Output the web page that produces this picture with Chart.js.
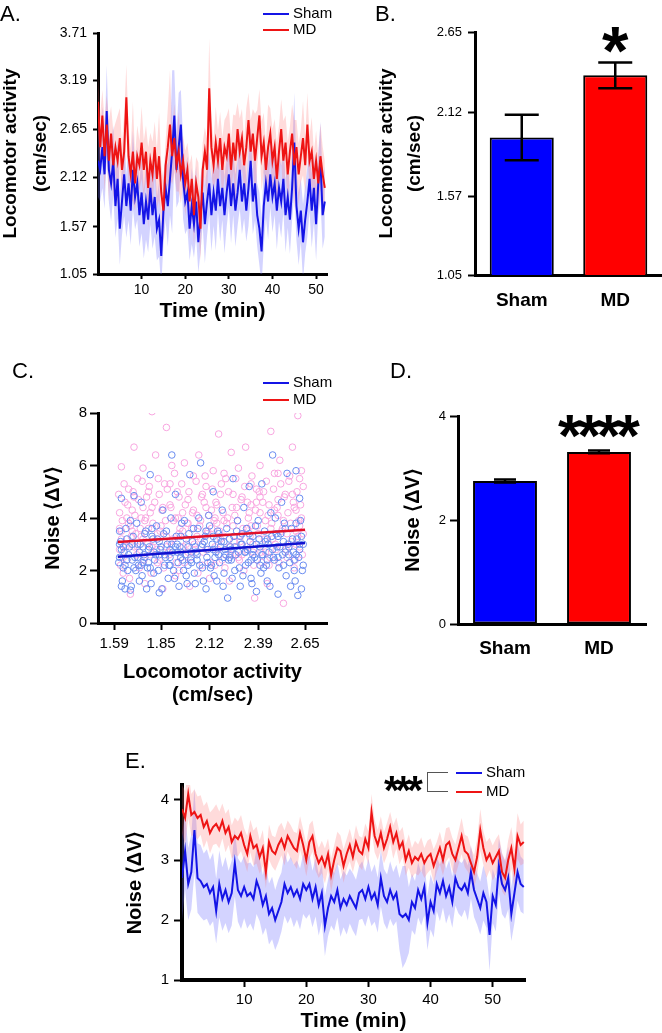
<!DOCTYPE html>
<html>
<head>
<meta charset="utf-8">
<script src="https://cdn.jsdelivr.net/npm/chart.js@4.4.1/dist/chart.umd.min.js"></script>
<style>
  body { margin: 0; background: #fff; font-family: "Liberation Sans", Arial, Helvetica, sans-serif; }
  #page { position: relative; width: 662px; height: 1033px; overflow: hidden; background: #fff; }
  .box { position: absolute; }
  .lbl { position: absolute; font-size: 22px; line-height: 1; color: #000; }
  .leg { position: absolute; font-size: 15px; line-height: 15px; color: #000; white-space: nowrap; }
  .leg i { display: inline-block; width: 26px; height: 2.5px; vertical-align: middle; margin-right: 4px; }
  .stars { position: absolute; font-weight: bold; font-size: 40px; line-height: 1; letter-spacing: -4px; }
  .brk { position: absolute; border: 1.5px solid #555; border-right: none; }
</style>
</head>
<body>
<div id="page">
  <div class="box" style="left:0;top:0"><canvas id="cA" width="340" height="325"></canvas></div>
  <div class="box" style="left:340px;top:0"><canvas id="cB" width="322" height="325"></canvas></div>
  <div class="box" style="left:0;top:330px"><canvas id="cC" width="340" height="377"></canvas></div>
  <div class="box" style="left:340px;top:330px"><canvas id="cD" width="322" height="330"></canvas></div>
  <div class="box" style="left:100px;top:740px"><canvas id="cE" width="460" height="293"></canvas></div>

  <div class="lbl" style="left:0;top:3px">A.</div>
  <div class="lbl" style="left:375px;top:3px">B.</div>
  <div class="lbl" style="left:12px;top:360px">C.</div>
  <div class="lbl" style="left:390px;top:360px">D.</div>
  <div class="lbl" style="left:125px;top:750px">E.</div>

  <div class="leg" style="left:263px;top:5px"><i style="background:#1414e6"></i>Sham</div>
  <div class="leg" style="left:263px;top:21px"><i style="background:#ee1414"></i>MD</div>
  <div class="leg" style="left:263px;top:374px"><i style="background:#1414e6"></i>Sham</div>
  <div class="leg" style="left:263px;top:391px"><i style="background:#ee1414"></i>MD</div>
  <div class="stars" style="left:384px;top:770px">***</div>
  <div class="brk" style="left:427px;top:772px;width:20px;height:18px"></div>
  <div class="leg" style="left:456px;top:764px"><i style="background:#1414e6"></i>Sham</div>
  <div class="leg" style="left:456px;top:783px"><i style="background:#ee1414"></i>MD</div>
</div>

<script>
const FONT = '"Liberation Sans", Arial, Helvetica, sans-serif';
Chart.defaults.font.family = FONT;
Chart.defaults.color = '#000';

const BLUE = '#1414e6';
const RED = '#ee1414';
const BLUE_BAND = 'rgba(110,110,255,0.30)';
const RED_BAND = 'rgba(255,110,110,0.25)';

// ---- Panel A: locomotor activity over time (sampled every 0.5 min)
const stepA = 0.5;
const mdA = [
  2.95,2.45,2.80,2.35,2.70,2.30,2.60,2.25,2.45,2.30,
  2.55,2.20,2.40,3.00,2.35,2.15,2.40,2.05,2.35,2.25,
  2.50,2.20,2.40,2.00,2.30,2.15,2.45,2.10,2.35,1.95,
  1.75,2.25,2.45,2.70,2.35,2.55,2.25,2.40,2.15,2.30,
  2.05,2.20,1.85,2.10,1.70,2.05,1.90,1.55,2.20,2.40,
  2.20,3.10,2.45,2.25,2.50,2.30,2.55,2.20,2.45,2.35,
  2.60,2.20,2.50,2.30,2.65,2.40,2.55,2.25,2.45,2.75,
  2.40,2.60,2.30,2.55,2.80,2.35,2.50,2.20,2.45,2.60,
  2.30,2.45,2.10,2.40,2.65,2.30,2.50,2.15,2.40,2.60,
  2.25,2.45,2.15,2.35,2.55,2.25,2.70,2.30,2.40,2.10,
  2.30,2.05,2.35,2.15,2.00
];
const shamA = [
  2.30,2.20,2.45,2.15,2.85,2.20,2.05,2.30,1.80,2.10,
  1.55,1.85,2.15,1.80,2.05,1.75,2.20,1.90,2.05,1.70,
  1.95,1.60,1.85,1.65,2.00,1.70,1.90,1.55,1.65,1.25,
  1.75,2.00,1.80,2.10,2.40,2.80,2.20,2.45,2.70,2.10,
  1.85,1.95,1.55,1.80,1.60,1.85,1.40,1.70,1.95,1.60,
  1.85,2.05,1.70,1.95,1.75,2.10,1.80,2.00,1.70,1.95,
  2.15,1.80,2.05,1.75,1.95,2.20,1.85,2.05,1.75,2.00,
  2.30,1.85,2.05,1.70,1.55,1.30,1.80,2.05,1.85,2.15,
  1.90,2.05,1.75,2.00,1.85,2.10,1.70,1.90,1.65,2.00,
  2.50,1.80,1.55,1.75,1.40,1.65,1.85,2.10,1.75,2.00,
  1.60,2.05,2.30,1.70,1.85
];
const semMdA = [
  0.30,0.35,0.28,0.40,0.32,0.45,0.30,0.38,0.27,0.50,
  0.33,0.29,0.42,0.36,0.31,0.28,0.55,0.30,0.34,0.27,
  0.40,0.32,0.29,0.45,0.31,0.36,0.28,0.33,0.48,0.30,
  0.35,0.27,0.42,0.60,0.31,0.38,0.29,0.44,0.32,0.28,
  0.36,0.30,0.41,0.27,0.33,0.29,0.38,0.35,0.30,0.27,
  0.34,0.55,0.31,0.28,0.40,0.33,0.29,0.36,0.30,0.45,
  0.28,0.34,0.31,0.50,0.29,0.37,0.32,0.28,0.43,0.30,
  0.35,0.27,0.52,0.31,0.29,0.38,0.33,0.30,0.47,0.28,
  0.35,0.31,0.40,0.29,0.33,0.44,0.30,0.36,0.28,0.32,
  0.50,0.30,0.34,0.29,0.41,0.31,0.35,0.28,0.38,0.30,
  0.33,0.29,0.36,0.31,0.30
];
const semShamA = [
  0.40,0.35,0.45,0.38,0.50,0.36,0.42,0.39,0.35,0.44,
  0.40,0.37,0.46,0.35,0.41,0.38,0.43,0.36,0.40,0.35,
  0.45,0.38,0.42,0.36,0.40,0.37,0.44,0.35,0.41,0.33,
  0.38,0.36,0.45,0.40,0.90,0.50,0.42,0.60,0.38,0.44,
  0.36,0.40,0.35,0.42,0.37,0.39,0.34,0.41,0.36,0.43,
  0.38,0.35,0.40,0.37,0.44,0.36,0.39,0.35,0.42,0.38,
  0.36,0.41,0.35,0.40,0.37,0.43,0.36,0.39,0.34,0.42,
  0.38,0.36,0.41,0.35,0.40,0.37,0.45,0.38,0.42,0.36,
  0.39,0.35,0.43,0.37,0.40,0.36,0.41,0.34,0.38,0.36,
  0.55,0.38,0.40,0.35,0.42,0.37,0.39,0.36,0.41,0.38,
  0.40,0.35,0.43,0.37,0.39
];
const ticksAy = [1.05, 1.57, 2.12, 2.65, 3.19, 3.71];
const ticksTime = [10, 20, 30, 40, 50];

// ---- Panel B: mean locomotor activity
const groups = ['Sham', 'MD'];
const barB = [1.955, 2.365];
const semB = [0.15, 0.085];
const ticksBy = [1.05, 1.57, 2.12, 2.65];

// ---- Panel C: noise vs locomotor activity, [x, y]
const shamPts = [
  [1.62,2.5],[1.62,3.5],[1.63,1.4],[1.63,4.75],[1.64,2.9],[1.65,1.3],[1.65,2.2],[1.66,3.2],[1.67,2.6],[1.68,1.25],
  [1.68,3.9],[1.69,2.4],[1.70,4.85],[1.71,2.0],[1.72,3.0],[1.73,1.6],[1.73,2.7],[1.74,4.6],[1.75,2.3],[1.76,3.4],
  [1.77,1.3],[1.78,2.8],[1.79,5.65],[1.79,2.1],[1.80,3.6],[1.81,1.9],[1.82,2.6],[1.83,3.2],[1.84,1.15],[1.85,2.9],
  [1.86,4.3],[1.87,2.2],[1.88,3.5],[1.89,1.7],[1.90,2.5],[1.91,6.4],[1.91,3.0],[1.92,2.0],[1.93,4.9],[1.94,2.7],
  [1.95,1.4],[1.96,3.3],[1.97,2.4],[1.98,3.9],[1.99,1.8],[2.00,2.9],[2.01,5.65],[2.02,2.3],[2.03,3.6],[2.04,1.5],
  [2.05,2.6],[2.06,4.0],[2.07,6.1],[2.08,2.1],[2.09,3.1],[2.10,1.3],[2.11,2.8],[2.12,3.7],[2.13,2.2],[2.14,5.0],
  [2.15,2.5],[2.16,1.6],[2.17,3.4],[2.18,2.9],[2.19,4.3],[2.20,1.9],[2.21,2.6],[2.22,0.95],[2.23,3.2],[2.24,2.4],
  [2.25,5.5],[2.26,2.0],[2.27,3.5],[2.28,2.7],[2.29,1.4],[2.30,3.0],[2.31,4.4],[2.32,2.2],[2.33,2.8],[2.34,5.2],
  [2.35,1.7],[2.36,3.3],[2.37,2.5],[2.38,1.2],[2.39,3.9],[2.40,2.9],[2.41,5.3],[2.42,2.1],[2.43,3.1],[2.44,1.6],
  [2.45,2.7],[2.46,4.2],[2.47,6.4],[2.48,2.4],[2.49,3.4],[2.50,1.1],[2.51,2.9],[2.52,4.6],[2.53,2.2],[2.54,3.6],
  [2.55,5.7],[2.56,2.6],[2.57,1.4],[2.58,3.2],[2.59,2.0],[2.60,5.8],[2.60,3.8],[2.61,1.05],[2.62,2.8],[2.62,4.75],
  [2.63,1.3],[2.63,3.3],
  [1.63,2.8],[1.66,2.4],[1.69,3.0],[1.72,2.5],[1.75,2.9],[1.78,2.3],[1.81,2.7],[1.84,3.1],[1.87,2.6],[1.90,2.2],
  [1.93,2.9],[1.96,2.5],[1.99,3.2],[2.02,2.7],[2.05,2.4],[2.08,3.0],[2.11,2.3],[2.14,2.8],[2.17,2.6],[2.20,3.1],
  [2.23,2.5],[2.26,2.9],[2.29,3.3],[2.32,2.7],[2.35,2.4],[2.38,3.0],[2.41,2.6],[2.44,3.2],[2.47,2.8],[2.50,2.5],
  [2.53,3.1],[2.56,2.9],[2.59,2.4],[2.62,3.0],[1.64,2.1],[1.74,2.2],[1.84,2.6],[1.94,3.0],[2.04,2.9],[2.14,3.3],
  [2.24,2.8],[2.34,3.4],[2.44,2.4],[2.54,2.7],
  [1.615,2.3],[1.625,3.1],[1.635,1.6],[1.645,2.7],[1.655,3.6],[1.665,2.0],[1.675,2.9],[1.685,1.4],[1.695,3.3],[1.705,2.5],
  [1.715,3.8],[1.725,2.2],[1.735,3.0],[1.745,1.8],[1.755,2.6],[1.765,3.5],[1.775,2.1],[1.785,2.9],[1.795,1.5],[1.805,3.2],
  [1.815,2.4],[1.825,3.7],[1.835,2.0],[1.845,2.8],[1.855,1.3],[1.865,3.4],[1.875,2.5],[1.885,3.0],[1.895,2.2],[1.905,4.0],
  [1.915,2.7],[1.925,1.7],[1.935,3.3],[1.945,2.3],[1.955,2.9],[1.965,3.8],[1.975,2.0],[1.985,2.6],[1.995,1.5],[2.005,3.4],
  [2.015,2.4],[2.025,3.1],[2.035,1.9],[2.045,2.7],[2.055,3.6],[2.065,2.2],[2.075,2.9],[2.085,1.6],[2.095,3.3],[2.105,2.5],
  [2.115,4.1],[2.125,2.1],[2.135,3.0],[2.145,1.8],[2.155,2.7],[2.165,3.5],[2.175,2.3],[2.185,3.1],[2.195,1.4],[2.205,2.8],
  [2.215,3.6],[2.225,2.4],[2.235,2.9],[2.245,1.7],[2.255,3.3],[2.265,2.6],[2.275,3.9],[2.285,2.1],[2.295,3.0],[2.305,1.8],
  [2.315,2.7],[2.325,3.6],[2.335,2.3],[2.345,3.1],[2.355,1.5],[2.365,2.8],[2.375,3.7],[2.385,2.4],[2.395,3.2],[2.405,1.9],
  [2.415,2.6],[2.425,3.5],[2.435,2.2],[2.445,3.0],[2.455,1.4],[2.465,3.3],[2.475,2.5],[2.485,4.0],[2.495,2.9],[2.505,2.1],
  [2.515,3.4],[2.525,2.6],[2.535,3.8],[2.545,1.8],[2.555,3.0],[2.565,2.3],[2.575,3.6],[2.585,2.7],[2.595,1.6],[2.605,3.2],
  [2.615,2.5],[2.625,3.9],[2.635,2.0],[2.64,3.0],[2.64,2.2],[1.62,3.0],[1.70,2.1],[1.80,3.3],[1.90,2.8],[2.00,2.2],
  [2.10,3.5],[2.20,2.5],[2.30,3.4],[2.40,2.2],[2.50,3.3],[2.60,2.6],[1.76,2.5],[1.96,2.7],[2.16,3.2],[2.36,2.6]
];
const mdPts = [
  [1.62,4.2],[1.62,2.8],[1.63,5.95],[1.63,3.5],[1.64,1.9],[1.65,4.6],[1.65,3.0],[1.66,2.4],[1.67,5.1],[1.67,3.8],
  [1.68,1.1],[1.69,4.3],[1.70,6.7],[1.70,2.9],[1.71,3.4],[1.72,5.5],[1.73,2.1],[1.74,4.0],[1.75,3.2],[1.75,5.9],
  [1.76,1.5],[1.77,4.8],[1.78,3.6],[1.79,2.6],[1.80,8.05],[1.80,4.4],[1.81,3.1],[1.82,6.4],[1.83,2.3],[1.84,4.9],
  [1.85,3.7],[1.86,1.3],[1.87,5.3],[1.88,7.45],[1.88,3.3],[1.89,2.7],[1.90,4.5],[1.91,6.0],[1.92,3.9],[1.93,1.8],
  [1.94,5.0],[1.95,3.4],[1.96,2.5],[1.97,4.2],[1.98,6.1],[1.99,3.0],[2.00,4.7],[2.01,1.4],[2.02,3.6],[2.03,5.6],
  [2.04,2.8],[2.05,4.1],[2.06,6.4],[2.07,3.2],[2.08,2.2],[2.09,4.6],[2.10,5.2],[2.11,3.5],[2.12,1.7],[2.13,4.3],
  [2.14,5.8],[2.15,2.9],[2.16,3.8],[2.17,7.2],[2.18,4.9],[2.19,2.4],[2.20,3.3],[2.21,5.5],[2.22,4.0],[2.23,1.6],
  [2.24,6.5],[2.25,3.7],[2.26,2.6],[2.27,4.4],[2.28,5.9],[2.29,3.1],[2.30,4.8],[2.31,2.0],[2.32,6.7],[2.33,3.6],
  [2.34,4.2],[2.35,5.3],[2.36,2.7],[2.37,0.95],[2.38,4.6],[2.39,3.4],[2.40,6.0],[2.41,2.3],[2.42,5.0],[2.43,3.9],
  [2.44,1.5],[2.45,4.5],[2.46,7.3],[2.47,3.2],[2.48,5.7],[2.49,2.8],[2.50,4.1],[2.51,6.2],[2.52,3.5],[2.53,0.75],
  [2.54,4.9],[2.55,2.5],[2.56,5.4],[2.57,3.8],[2.58,6.7],[2.59,2.1],[2.60,4.3],[2.61,7.9],[2.61,3.3],[2.62,5.5],
  [2.62,2.9],[2.63,4.0],[2.63,5.8],
  [1.63,3.2],[1.66,4.0],[1.69,3.5],[1.72,2.9],[1.76,3.9],[1.79,4.2],[1.83,3.4],[1.86,4.4],[1.90,3.1],[1.93,4.0],
  [1.97,3.5],[2.00,2.7],[2.03,4.3],[2.07,3.9],[2.10,2.8],[2.13,3.6],[2.16,4.5],[2.20,3.9],[2.23,2.9],[2.26,4.1],
  [2.30,3.4],[2.33,4.6],[2.36,3.0],[2.40,4.2],[2.43,2.7],[2.46,3.6],[2.50,4.7],[2.53,3.9],[2.56,2.9],[2.59,4.4],
  [2.62,3.7],[1.64,2.5],[1.74,3.3],[1.84,2.4],[1.95,4.8],[2.05,3.3],[2.15,2.2],[2.25,4.9],[2.35,3.7],[2.45,2.2],
  [2.55,3.4],[2.60,3.0],[1.68,3.7],[1.78,5.0],[1.88,2.9],[1.98,2.3],[2.08,4.9],[2.18,3.2],[2.28,2.5],[2.38,5.1],
  [2.48,4.3],[2.58,4.9],
  [1.615,4.9],[1.625,2.2],[1.635,3.9],[1.645,5.3],[1.655,2.9],[1.665,4.5],[1.675,1.7],[1.685,3.3],[1.695,5.0],[1.705,4.1],
  [1.715,2.6],[1.725,4.7],[1.735,3.6],[1.745,5.4],[1.755,2.4],[1.765,4.0],[1.775,3.0],[1.785,5.2],[1.795,1.9],[1.805,3.8],
  [1.815,4.6],[1.825,2.8],[1.835,5.5],[1.845,3.5],[1.855,4.3],[1.865,2.1],[1.875,3.9],[1.885,5.1],[1.895,2.6],[1.905,4.4],
  [1.915,3.2],[1.925,5.7],[1.935,2.3],[1.945,4.0],[1.955,3.6],[1.965,5.3],[1.975,2.9],[1.985,4.5],[1.995,3.8],[2.005,5.0],
  [2.015,2.5],[2.025,4.2],[2.035,3.0],[2.045,5.4],[2.055,1.9],[2.065,3.7],[2.075,4.8],[2.085,2.7],[2.095,5.6],[2.105,3.4],
  [2.115,4.1],[2.125,2.3],[2.135,5.1],[2.145,3.9],[2.155,4.6],[2.165,2.8],[2.175,3.5],[2.185,5.3],[2.195,4.2],[2.205,2.1],
  [2.215,3.8],[2.225,5.0],[2.235,2.6],[2.245,4.4],[2.255,3.1],[2.265,5.5],[2.275,3.9],[2.285,2.4],[2.295,4.7],[2.305,3.6],
  [2.315,5.2],[2.325,2.9],[2.335,4.0],[2.345,3.3],[2.355,5.6],[2.365,2.2],[2.375,4.3],[2.385,3.7],[2.395,5.0],[2.405,2.7],
  [2.415,4.6],[2.425,3.2],[2.435,5.4],[2.445,4.1],[2.455,2.5],[2.465,3.8],[2.475,5.1],[2.485,3.0],[2.495,4.4],[2.505,2.3],
  [2.515,5.3],[2.525,3.6],[2.535,4.8],[2.545,2.8],[2.555,4.2],[2.565,5.6],[2.575,3.1],[2.585,4.6],[2.595,2.4],[2.605,5.0],
  [2.615,3.9],[2.625,4.5],[2.635,2.6],[2.64,5.2],[2.64,3.4],[1.62,3.6],[1.70,4.8],[1.80,2.9],[1.90,5.3],[2.00,3.8],
  [2.10,4.4],[2.20,5.7],[2.30,2.6],[2.40,4.8],[2.50,5.7],[2.60,3.5],[1.75,4.4],[1.95,2.0],[2.15,4.0],[2.35,4.5]
];
const fitX = [1.61, 2.65];
const shamFit = [2.52, 3.05];
const mdFit = [3.09, 3.55];
const ticksCx = [1.59, 1.85, 2.12, 2.39, 2.65];

// ---- Panel D: mean noise
const barD = [2.75, 3.31];
const semD = [0.03, 0.025];

// ---- Panel E: noise over time (sampled every 0.5 min)
const stepE = 0.5;
const mdE = [
  3.85,3.70,4.10,3.75,3.80,3.70,3.75,3.55,3.65,3.45,3.55,3.60,3.50,3.65,3.45,3.55,3.30,3.40,3.35,3.45,
  3.25,3.10,3.40,3.20,3.25,3.05,3.20,2.80,3.30,3.15,3.10,3.25,3.35,3.20,3.40,3.30,3.20,3.15,3.45,3.25,
  3.00,3.30,3.40,3.10,2.95,3.05,2.90,3.10,2.75,3.00,3.20,3.15,2.90,3.10,3.25,3.05,3.30,3.15,3.10,3.35,
  3.20,3.80,3.40,3.25,3.45,3.20,3.35,3.55,3.30,3.45,3.20,3.30,3.00,3.15,2.95,3.05,3.00,3.10,2.95,3.05,
  3.10,2.90,3.05,3.20,3.00,3.25,3.30,3.10,3.00,3.20,3.40,3.15,3.10,2.95,2.80,3.05,3.50,3.20,3.00,3.10,
  2.95,3.05,3.15,2.80,2.70,3.00,3.20,2.85,3.40,3.25,3.30
];
const shamE = [
  2.70,3.15,2.60,2.80,3.50,2.70,2.65,2.55,2.60,2.45,2.55,2.15,2.60,2.35,2.50,2.30,2.45,2.95,2.50,2.40,
  2.55,2.40,2.45,2.35,2.65,2.50,2.25,2.40,2.10,2.20,2.00,2.15,2.30,2.60,2.45,2.55,2.40,2.50,2.35,2.60,
  2.50,2.60,2.35,2.55,2.25,2.45,1.90,2.20,2.40,2.30,2.50,2.20,2.35,2.25,2.40,2.30,2.20,2.45,2.50,2.35,
  2.55,2.35,2.45,2.25,2.70,2.40,2.30,2.50,2.35,2.45,2.10,2.05,2.10,2.00,2.30,2.20,2.50,2.35,2.55,1.95,
  2.30,2.15,2.60,2.45,2.65,2.40,2.55,2.30,2.70,2.55,2.50,2.60,2.45,2.80,2.50,2.35,2.20,2.45,2.30,1.75,
  2.40,2.25,2.90,2.60,2.50,2.70,2.10,2.45,2.80,2.60,2.55
];
const semMdE = [
  0.40,0.45,0.40,0.35,0.38,0.36,0.33,0.35,0.32,0.34,0.30,0.33,0.31,0.29,0.32,0.30,0.28,0.31,0.29,0.30,
  0.28,0.30,0.27,0.29,0.31,0.28,0.30,0.27,0.29,0.26,0.28,0.30,0.27,0.29,0.26,0.28,0.27,0.30,0.28,0.26,
  0.27,0.29,0.26,0.28,0.25,0.27,0.29,0.26,0.28,0.25,0.27,0.26,0.28,0.25,0.27,0.26,0.28,0.25,0.27,0.26,
  0.28,0.30,0.27,0.25,0.28,0.26,0.27,0.25,0.28,0.26,0.27,0.25,0.26,0.28,0.25,0.27,0.26,0.28,0.25,0.27,
  0.26,0.28,0.25,0.27,0.26,0.28,0.25,0.27,0.26,0.28,0.30,0.27,0.29,0.26,0.28,0.30,0.35,0.28,0.30,0.27,
  0.29,0.30,0.28,0.32,0.30,0.33,0.35,0.32,0.38,0.34,0.36
];
const semShamE = [
  0.70,0.65,0.60,0.62,0.70,0.58,0.60,0.56,0.58,0.55,0.57,0.54,0.56,0.53,0.55,0.52,0.54,0.56,0.53,0.55,
  0.52,0.54,0.51,0.53,0.55,0.52,0.50,0.53,0.51,0.52,0.50,0.52,0.49,0.53,0.51,0.50,0.52,0.49,0.51,0.50,
  0.48,0.50,0.47,0.49,0.51,0.48,0.50,0.47,0.49,0.48,0.46,0.48,0.47,0.49,0.46,0.48,0.47,0.45,0.48,0.46,
  0.47,0.45,0.48,0.46,0.47,0.45,0.46,0.48,0.45,0.47,0.60,0.85,0.80,0.55,0.47,0.45,0.46,0.44,0.47,0.45,
  0.46,0.44,0.45,0.47,0.44,0.46,0.45,0.43,0.46,0.44,0.45,0.43,0.46,0.44,0.45,0.43,0.44,0.46,0.43,0.60,
  0.45,0.44,0.46,0.50,0.48,0.52,0.45,0.50,0.48,0.46,0.45
];
const ticksEy = [1, 2, 3, 4];

// ---------- helpers
function pts(vals, step) {
  return vals.map((v, i) => ({ x: i * step, y: v }));
}
function fixTicks(list) {
  return s => { s.ticks = list.map(v => ({ value: v })); };
}
function axisBase(extra) {
  return Object.assign({
    border: { display: true, color: '#000', width: 3 },
    grid: { display: true, drawOnChartArea: false, drawTicks: true, tickLength: 6, tickColor: '#000', tickWidth: 2 },
  }, extra);
}
// mean +/- sem band: upper set fills down to the lower set
function bandSets(mean, sem, step, bandColor, first) {
  const up = mean.map((v, i) => v + sem[i]);
  const lo = mean.map((v, i) => v - sem[i]);
  return [
    { data: pts(up, step), borderWidth: 0, pointRadius: 0, fill: first + 1, backgroundColor: bandColor },
    { data: pts(lo, step), borderWidth: 0, pointRadius: 0, fill: false }
  ];
}
function lineSet(mean, step, color) {
  return { data: pts(mean, step), borderColor: color, borderWidth: 2, pointRadius: 0, fill: false };
}
const common = {
  responsive: false,
  animation: false,
  events: [],
};

// error bars + significance stars on bar charts
const errorBars = {
  id: 'errorBars',
  afterDatasetsDraw(chart, args, o) {
    const ctx = chart.ctx, y = chart.scales.y;
    const meta = chart.getDatasetMeta(0);
    const vals = chart.data.datasets[0].data;
    ctx.save();
    ctx.strokeStyle = '#000';
    ctx.lineWidth = 2.5;
    meta.data.forEach((bar, i) => {
      const hi = y.getPixelForValue(vals[i] + o.errors[i]);
      const lo = y.getPixelForValue(vals[i] - o.errors[i]);
      const w = o.cap / 2;
      ctx.beginPath();
      ctx.moveTo(bar.x, hi); ctx.lineTo(bar.x, lo);
      ctx.moveTo(bar.x - w, hi); ctx.lineTo(bar.x + w, hi);
      ctx.moveTo(bar.x - w, lo); ctx.lineTo(bar.x + w, lo);
      ctx.stroke();
      const n = o.stars[i];
      if (n) {
        ctx.font = o.starFont;
        ctx.fillStyle = '#000';
        ctx.textAlign = 'center';
        ctx.textBaseline = 'alphabetic';
        const m = ctx.measureText('*');
        const base = hi - o.starGap - m.actualBoundingBoxDescent;
        for (let k = 0; k < n; k++) {
          ctx.fillText('*', bar.x + (k - (n - 1) / 2) * o.starStep, base);
        }
      }
    });
    ctx.restore();
  }
};

// ---------- A
new Chart(document.getElementById('cA'), {
  type: 'line',
  data: {
    datasets: [
      lineSet(mdA, stepA, RED),
      lineSet(shamA, stepA, BLUE),
      ...bandSets(mdA, semMdA, stepA, RED_BAND, 2),
      ...bandSets(shamA, semShamA, stepA, BLUE_BAND, 4)
    ]
  },
  options: Object.assign({}, common, {
    layout: { padding: { top: 33, right: 13, left: 0, bottom: 0 } },
    plugins: { legend: { display: false }, tooltip: { enabled: false } },
    scales: {
      x: axisBase({
        type: 'linear', min: 0, max: 52.5,
        afterBuildTicks: fixTicks(ticksTime),
        afterFit: s => { s.height = 51; },
        grid: { display: true, drawOnChartArea: false, drawTicks: true, tickLength: 5, tickColor: '#000', tickWidth: 2 },
        ticks: { font: { size: 14 }, padding: 3, maxRotation: 0, autoSkip: false },
        title: { display: true, text: 'Time (min)', font: { size: 21, weight: 'bold', lineHeight: 1.2 }, padding: { top: 0, bottom: 1 } }
      }),
      y: axisBase({
        min: 1.05, max: 3.71,
        afterBuildTicks: fixTicks(ticksAy),
        afterFit: s => { s.width = 98; },
        grid: { display: true, drawOnChartArea: false, drawTicks: true, tickLength: 5, tickColor: '#000', tickWidth: 2 },
        ticks: { font: { size: 14 }, padding: 6, callback: v => v.toFixed(2) },
        title: { display: true, text: ['Locomotor activity', '(cm/sec)'], font: { size: 19, weight: 'bold', lineHeight: 1.58 }, padding: { top: -4, bottom: 0 } }
      })
    }
  })
});

// ---------- B
new Chart(document.getElementById('cB'), {
  type: 'bar',
  data: {
    labels: groups,
    datasets: [{
      data: barB, backgroundColor: ['#0000ff', '#ff0000'],
      borderColor: '#000', borderWidth: 2, borderSkipped: false,
      barPercentage: 0.685, categoryPercentage: 1
    }]
  },
  options: Object.assign({}, common, {
    layout: { padding: { top: 32, right: 0, left: 0, bottom: 0 } },
    plugins: {
      legend: { display: false }, tooltip: { enabled: false },
      errorBars: { errors: semB, cap: 34, stars: [0, 1], starFont: 'bold 68px ' + FONT, starGap: 9, starStep: 20 }
    },
    scales: {
      x: {
        afterFit: s => { s.height = 50; },
        border: { display: true, color: '#000', width: 3 },
        grid: { display: false },
        ticks: { font: { size: 19, weight: 'bold' }, padding: 6 }
      },
      y: axisBase({
        min: 1.05, max: 2.65,
        afterBuildTicks: fixTicks(ticksBy),
        afterFit: s => { s.width = 135; },
        grid: { display: true, drawOnChartArea: false, drawTicks: true, tickLength: 7, tickColor: '#000', tickWidth: 2 },
        ticks: { font: { size: 13 }, padding: 6, callback: v => v.toFixed(2) },
        title: { display: true, text: ['Locomotor activity', '(cm/sec)'], font: { size: 19, weight: 'bold', lineHeight: 1.47 }, padding: { top: 33, bottom: 0 } }
      })
    }
  }),
  plugins: [errorBars]
});

// ---------- C
new Chart(document.getElementById('cC'), {
  type: 'scatter',
  data: {
    datasets: [
      { type: 'line', data: fitX.map((x, i) => ({ x, y: mdFit[i] })), borderColor: '#e0102a', borderWidth: 2.5, pointRadius: 0 },
      { type: 'line', data: fitX.map((x, i) => ({ x, y: shamFit[i] })), borderColor: '#1010d0', borderWidth: 2.5, pointRadius: 0 },
      { data: shamPts.map(([x, y]) => ({ x, y })), borderColor: '#6a8cf0', backgroundColor: 'rgba(0,0,0,0)', borderWidth: 1, pointRadius: 3.3 },
      { data: mdPts.map(([x, y]) => ({ x, y })), borderColor: '#f8a6e0', backgroundColor: 'rgba(0,0,0,0)', borderWidth: 1, pointRadius: 3.3 }
    ]
  },
  options: Object.assign({}, common, {
    layout: { padding: { top: 83, right: 13, left: 0, bottom: 0 } },
    plugins: { legend: { display: false }, tooltip: { enabled: false } },
    scales: {
      x: axisBase({
        type: 'linear', min: 1.50, max: 2.772,
        afterBuildTicks: fixTicks(ticksCx),
        afterFit: s => { s.height = 84; },
        grid: { display: true, drawOnChartArea: false, drawTicks: true, tickLength: 7, tickColor: '#000', tickWidth: 2 },
        ticks: { font: { size: 15 }, padding: 5, maxRotation: 0, autoSkip: false, callback: v => v.toFixed(2) },
        title: { display: true, text: ['Locomotor activity', '(cm/sec)'], font: { size: 20, weight: 'bold', lineHeight: 1.15 }, padding: { top: 0, bottom: 0.5 } }
      }),
      y: axisBase({
        min: 0, max: 8,
        ticks: { stepSize: 2, font: { size: 15 }, padding: 3 },
        afterFit: s => { s.width = 98; },
        grid: { display: true, drawOnChartArea: false, drawTicks: true, tickLength: 8, tickColor: '#000', tickWidth: 2 },
        title: { display: true, text: 'Noise \u27E8\u0394V\u27E9', font: { size: 20, weight: 'bold', lineHeight: 1.2 }, padding: { top: 41, bottom: 0 } }
      })
    }
  })
});

// ---------- D
new Chart(document.getElementById('cD'), {
  type: 'bar',
  data: {
    labels: groups,
    datasets: [{
      data: barD, backgroundColor: ['#0000ff', '#ff0000'],
      borderColor: '#000', borderWidth: 2, borderSkipped: false,
      barPercentage: 0.68, categoryPercentage: 1
    }]
  },
  options: Object.assign({}, common, {
    layout: { padding: { top: 86, right: 16, left: 0, bottom: 0 } },
    plugins: {
      legend: { display: false }, tooltip: { enabled: false },
      errorBars: { errors: semD, cap: 22, stars: [0, 4], starFont: 'bold 60px ' + FONT, starGap: 13, starStep: 19.5 }
    },
    scales: {
      x: {
        afterFit: s => { s.height = 36; },
        border: { display: true, color: '#000', width: 3 },
        grid: { display: false },
        ticks: { font: { size: 19, weight: 'bold' }, padding: 5 }
      },
      y: axisBase({
        min: 0, max: 4,
        ticks: { stepSize: 2, font: { size: 13 }, padding: 4 },
        afterFit: s => { s.width = 118; },
        grid: { display: true, drawOnChartArea: false, drawTicks: true, tickLength: 8, tickColor: '#000', tickWidth: 2 },
        title: { display: true, text: 'Noise \u27E8\u0394V\u27E9', font: { size: 20, weight: 'bold', lineHeight: 1.2 }, padding: { top: 61, bottom: 0 } }
      })
    }
  }),
  plugins: [errorBars]
});

// ---------- E
new Chart(document.getElementById('cE'), {
  type: 'line',
  data: {
    datasets: [
      lineSet(mdE, stepE, RED),
      lineSet(shamE, stepE, BLUE),
      ...bandSets(mdE, semMdE, stepE, RED_BAND, 2),
      ...bandSets(shamE, semShamE, stepE, BLUE_BAND, 4)
    ]
  },
  options: Object.assign({}, common, {
    layout: { padding: { top: 45, right: 35, left: 0, bottom: 0 } },
    plugins: { legend: { display: false }, tooltip: { enabled: false } },
    scales: {
      x: axisBase({
        type: 'linear', min: 0, max: 55.2,
        afterBuildTicks: fixTicks(ticksTime),
        afterFit: s => { s.height = 53; },
        border: { display: true, color: '#000', width: 4 },
        grid: { display: true, drawOnChartArea: false, drawTicks: true, tickLength: 7, tickColor: '#000', tickWidth: 2 },
        ticks: { font: { size: 15 }, padding: 4, maxRotation: 0, autoSkip: false },
        title: { display: true, text: 'Time (min)', font: { size: 21, weight: 'bold', lineHeight: 1.1 }, padding: { top: 0, bottom: 0 } }
      }),
      y: axisBase({
        min: 1, max: 4.25,
        afterBuildTicks: fixTicks(ticksEy),
        afterFit: s => { s.width = 82; },
        border: { display: true, color: '#000', width: 4 },
        grid: { display: true, drawOnChartArea: false, drawTicks: true, tickLength: 8, tickColor: '#000', tickWidth: 2 },
        ticks: { font: { size: 15 }, padding: 5 },
        title: { display: true, text: 'Noise \u27E8\u0394V\u27E9', font: { size: 20, weight: 'bold', lineHeight: 1.2 }, padding: { top: 23, bottom: 0 } }
      })
    }
  })
});
</script>
</body>
</html>
